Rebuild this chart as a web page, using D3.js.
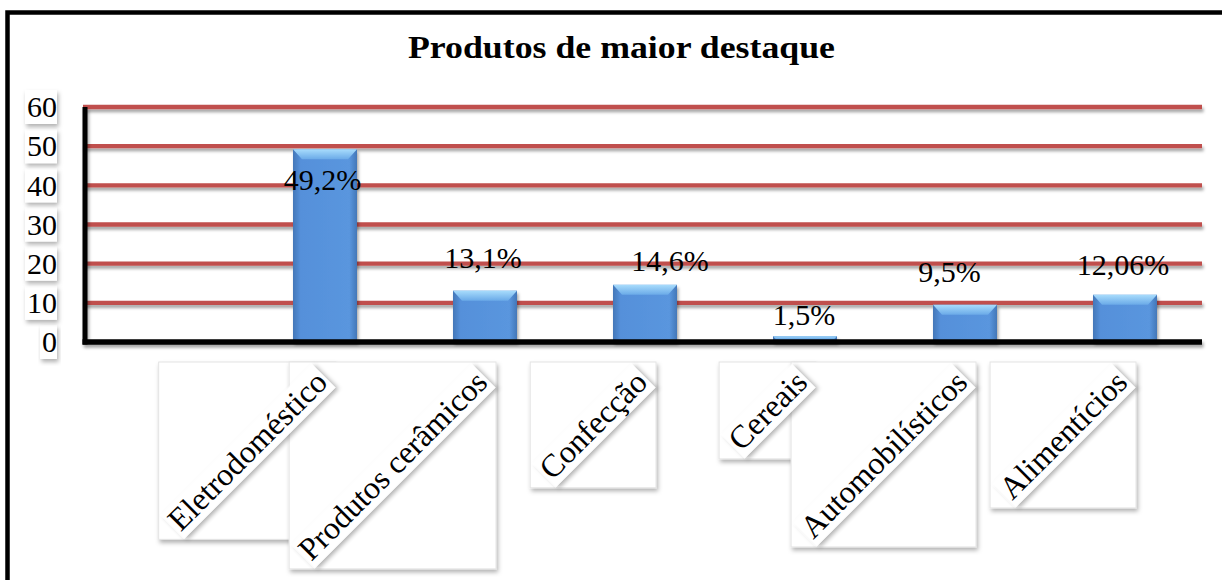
<!DOCTYPE html>
<html>
<head>
<meta charset="utf-8">
<script src="https://cdn.jsdelivr.net/npm/d3@7/dist/d3.min.js"></script>
<style>
  html, body { margin: 0; padding: 0; background: #fff; }
  svg { display: block; }
</style>
</head>
<body>
<svg id="chart" width="1222" height="580"></svg>
<script>
// Chart data
const title = "Produtos de maior destaque";
const categories = ["", "Eletrodoméstico", "Produtos cerâmicos", "Confecção", "Cereais", "Automobilísticos", "Alimentícios"];
const values = [null, 49.2, 13.1, 14.6, 1.5, 9.5, 12.06];
const valueLabels = ["", "49,2%", "13,1%", "14,6%", "1,5%", "9,5%", "12,06%"];
const yTicks = [0, 10, 20, 30, 40, 50, 60];

const serif = "'Liberation Serif', 'Times New Roman', Times, serif";
const svg = d3.select("#chart");
const W = 1222, H = 580;

// Filters and gradients
const defs = svg.append("defs");
const shadow = defs.append("filter").attr("id", "shadow")
  .attr("x", "-10%").attr("y", "-50%").attr("width", "130%").attr("height", "300%");
shadow.append("feDropShadow").attr("dx", 1.5).attr("dy", 3).attr("stdDeviation", 1.8)
  .attr("flood-color", "#000").attr("flood-opacity", 0.35);
const boxShadow = defs.append("filter").attr("id", "boxShadow")
  .attr("x", "-10%").attr("y", "-10%").attr("width", "130%").attr("height", "130%");
boxShadow.append("feDropShadow").attr("dx", 1.5).attr("dy", 3).attr("stdDeviation", 2)
  .attr("flood-color", "#000").attr("flood-opacity", 0.3);

const barGrad = defs.append("linearGradient").attr("id", "barGrad")
  .attr("x1", 0).attr("x2", 1).attr("y1", 0).attr("y2", 0);
barGrad.append("stop").attr("offset", "0%").attr("stop-color", "#4377B8");
barGrad.append("stop").attr("offset", "12%").attr("stop-color", "#5590DA");
barGrad.append("stop").attr("offset", "88%").attr("stop-color", "#5A96DE");
barGrad.append("stop").attr("offset", "100%").attr("stop-color", "#4377B8");
const bevelGrad = defs.append("linearGradient").attr("id", "bevelGrad")
  .attr("x1", 0).attr("x2", 0).attr("y1", 0).attr("y2", 1);
bevelGrad.append("stop").attr("offset", "0%").attr("stop-color", "#A8DCFC");
bevelGrad.append("stop").attr("offset", "100%").attr("stop-color", "#6AAAE8");

// Outer frame
svg.append("rect")
  .attr("x", 7.5).attr("y", 12.5).attr("width", 1400).attr("height", 800)
  .attr("fill", "none").attr("stroke", "#000").attr("stroke-width", 4.5);

// Title
svg.append("text")
  .attr("x", 621.5).attr("y", 58)
  .attr("text-anchor", "middle")
  .attr("font-family", serif).attr("font-weight", "bold").attr("font-size", 31)
  .attr("textLength", 427).attr("lengthAdjust", "spacingAndGlyphs")
  .text(title);

// Scales
const x = d3.scaleBand()
  .domain(categories)
  .range([85, 1205])
  .paddingInner(0.6).paddingOuter(0.3);
const y = d3.scaleLinear().domain([0, 60]).range([342, 107]);

// Gridlines
svg.append("g").attr("filter", "url(#shadow)")
  .selectAll("line").data(yTicks.filter(t => t > 0)).join("line")
  .attr("x1", 83).attr("x2", 1202)
  .attr("y1", d => y(d)).attr("y2", d => y(d))
  .attr("stroke", "#C0504D").attr("stroke-width", 4.3);

// Bars
const barData = categories.map((c, i) => ({ c, v: values[i], label: valueLabels[i] }))
  .filter(d => d.v != null);
const bars = svg.append("g").selectAll("g").data(barData).join("g")
  .attr("filter", "url(#shadow)");
bars.append("rect")
  .attr("x", d => x(d.c)).attr("width", x.bandwidth())
  .attr("y", d => y(d.v)).attr("height", d => y(0) - y(d.v))
  .attr("fill", "url(#barGrad)");
// Top bevel
bars.append("path")
  .attr("d", d => {
    const x0 = x(d.c), x1 = x0 + x.bandwidth(), t = y(d.v);
    const h = Math.min(10, (y(0) - t) / 2), inset = Math.min(9, h * 0.9);
    return `M${x0},${t}L${x1},${t}L${x1 - inset},${t + h}L${x0 + inset},${t + h}Z`;
  })
  .attr("fill", "url(#bevelGrad)");

// Axes lines
const axes = svg.append("g").attr("filter", "url(#shadow)");
axes.append("line")
  .attr("x1", 85).attr("x2", 85).attr("y1", y(60)).attr("y2", y(0) + 2.5)
  .attr("stroke", "#000").attr("stroke-width", 5);
axes.append("line")
  .attr("x1", 82.5).attr("x2", 1202).attr("y1", y(0)).attr("y2", y(0))
  .attr("stroke", "#000").attr("stroke-width", 5.5);

// Y tick labels with framed backgrounds
const tickG = svg.append("g").selectAll("g").data(yTicks).join("g")
  .attr("transform", d => `translate(57,${y(d)})`);
const tickText = tickG.append("text")
  .attr("text-anchor", "end").attr("dy", "0.34em")
  .attr("font-family", serif).attr("font-size", 30)
  .text(d => d);
tickG.insert("rect", "text")
  .each(function (d) {
    const w = this.parentNode.querySelector("text").getComputedTextLength();
    d3.select(this).attr("x", -w - 2).attr("y", -17).attr("width", w + 2).attr("height", 34);
  })
  .attr("fill", "#fff").attr("filter", "url(#boxShadow)");

// Value labels, nudged where they were placed by hand
const labelNudge = [[0, 0], [-2.5, 54.7], [-2, -8.7], [25, 0], [-1, 3], [-15.5, -8.8], [-2, -5.8]];
svg.append("g").selectAll("text").data(barData).join("text")
  .attr("x", d => x(d.c) + x.bandwidth() / 2 + labelNudge[categories.indexOf(d.c)][0])
  .attr("y", d => y(d.v) - 14 + labelNudge[categories.indexOf(d.c)][1])
  .attr("text-anchor", "middle")
  .attr("font-family", serif).attr("font-size", 30)
  .text(d => d.label);

// Rotated category labels with their bounding boxes
const fs = 32, asc = 0.891 * fs, desc = 0.216 * fs, pad = 2, r2 = Math.SQRT2;
const catData = categories.filter(c => c !== "");
const boxLayer = svg.append("g");
const textLayer = svg.append("g");
catData.forEach(c => {
  const cx = x(c) + x.bandwidth() / 2;
  const R = cx + 11, T = 362;
  const g = textLayer.append("g");
  const t = g.append("text")
    .attr("text-anchor", "end")
    .attr("font-family", serif).attr("font-size", fs)
    .text(c);
  const w = t.node().getComputedTextLength();
  const s = (w + asc + desc) / r2 + 2 * pad;
  const ax = R - pad - desc / r2, ay = T + pad + asc / r2;
  g.attr("transform", `translate(${ax},${ay}) rotate(-45)`);
  g.insert("rect", "text")
    .attr("x", -w - 2).attr("y", -asc + 2).attr("width", w + 4).attr("height", asc + desc - 2)
    .attr("fill", "#fff").attr("filter", "url(#boxShadow)");
  boxLayer.append("rect")
    .attr("x", R - s).attr("y", T).attr("width", s).attr("height", s)
    .attr("fill", "#fff").attr("stroke", "#e4e4e4").attr("stroke-width", 1)
    .attr("filter", "url(#boxShadow)");
});
</script>
</body>
</html>
